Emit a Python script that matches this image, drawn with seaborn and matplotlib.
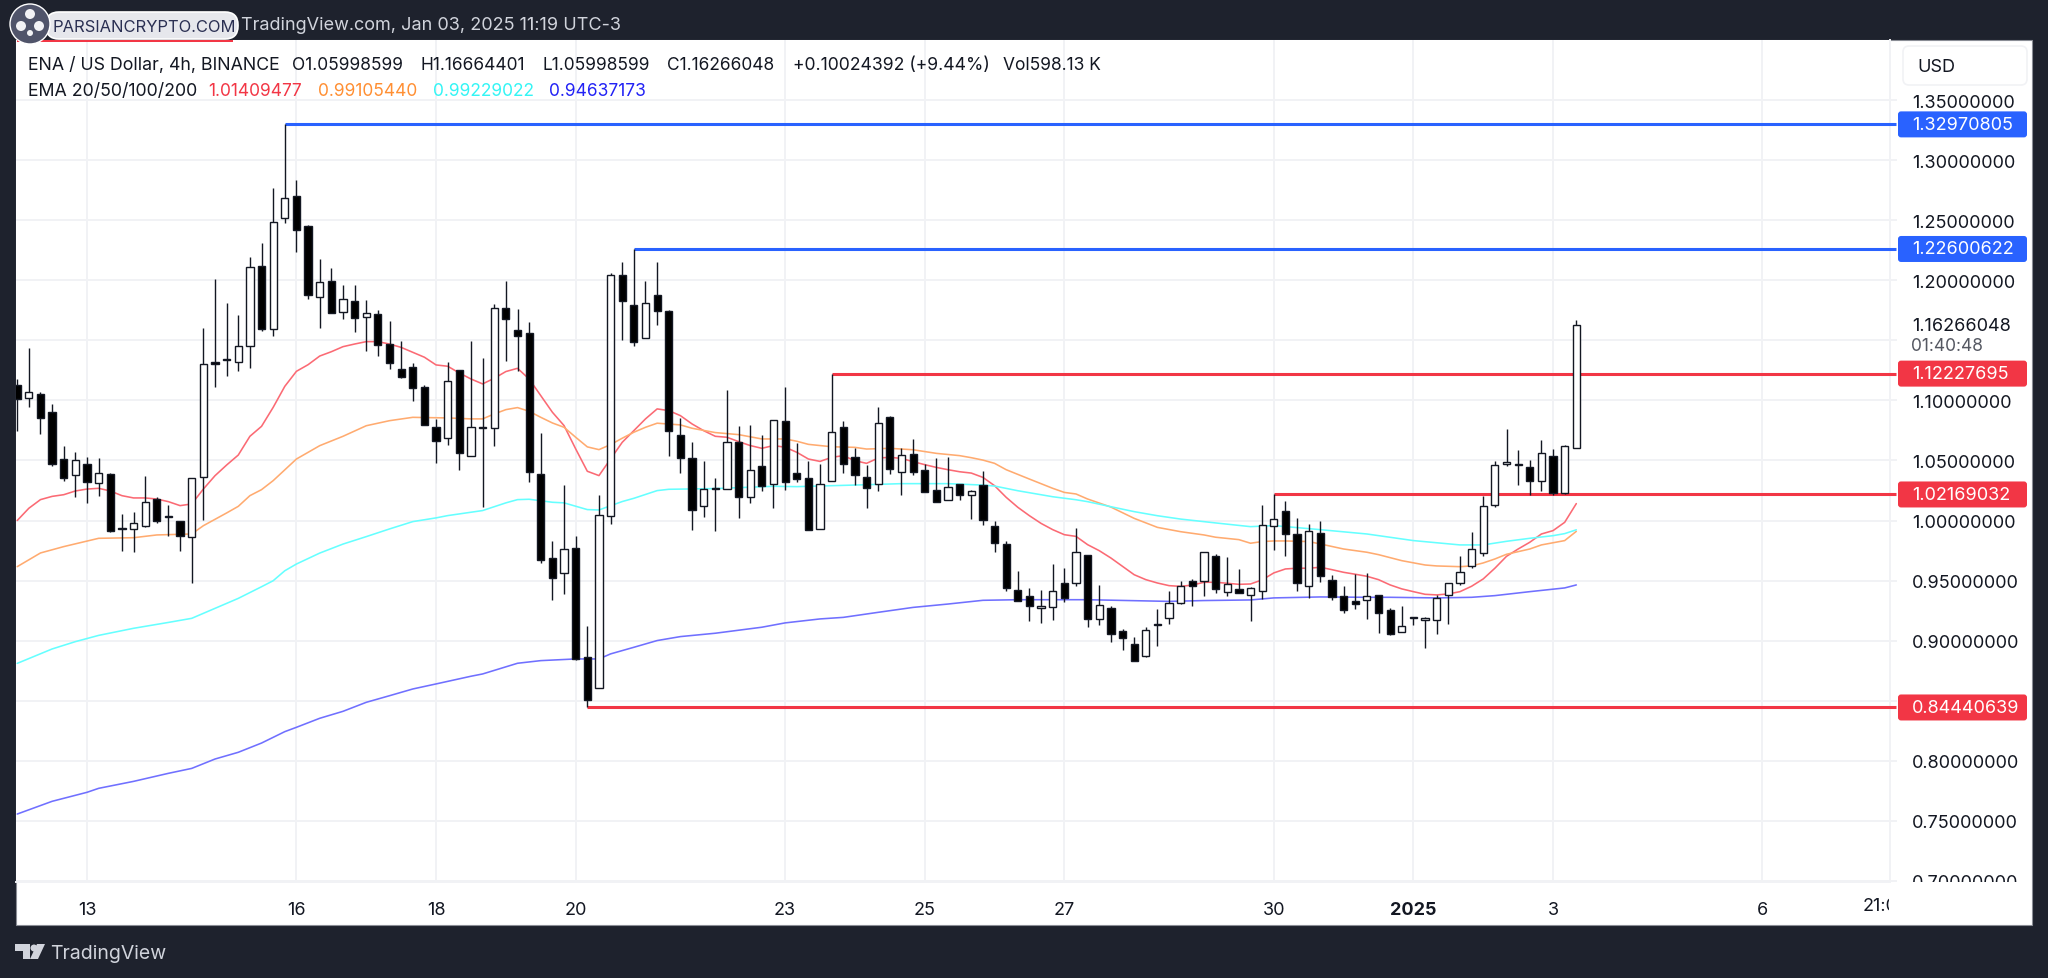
import pandas as pd
import seaborn as sns
import matplotlib.pyplot as plt
from matplotlib.patches import Rectangle, FancyBboxPatch, Circle, Polygon
from matplotlib.transforms import Bbox, IdentityTransform, blended_transform_factory

# candles, 4h bars, bar 0 is the first one on the left
opens = [1.1131, 1.1022, 1.1056, 1.0900, 1.0509, 1.0382, 1.0470, 1.0312, 1.0390, 0.9930,
         0.9927, 0.9957, 1.0176, 1.0027, 0.9993, 0.9866, 1.0360, 1.1319, 1.1339, 1.1317,
         1.1455, 1.2118, 1.1594, 1.2518, 1.2698, 1.2454, 1.1857, 1.1993, 1.1738, 1.1824,
         1.1694, 1.1716, 1.1472, 1.1264, 1.1278, 1.1115, 1.0779, 1.0688, 1.1251, 1.0538,
         1.0771, 1.0771, 1.1767, 1.1586, 1.1561, 1.0391, 0.9686, 0.9561, 0.9775, 0.8862,
         0.8604, 1.0036, 1.2044, 1.1792, 1.1520, 1.1880, 1.1747, 1.0712, 1.0524, 1.0119,
         1.0266, 1.0260, 1.0654, 1.0199, 1.0457, 1.0302, 1.0826, 1.0396, 1.0352, 0.9932,
         1.0329, 1.0778, 1.0528, 1.0365, 1.0304, 1.0861, 1.0401, 1.0551, 1.0420, 1.0251,
         1.0171, 1.0301, 1.0215, 1.0295, 0.9957, 0.9807, 0.9419, 0.9372, 0.9275, 0.9277,
         0.9477, 0.9483, 0.9710, 0.9178, 0.9272, 0.9083, 0.8969, 0.8875, 0.9128, 0.9186,
         0.9311, 0.9499, 0.9494, 0.9705, 0.9403, 0.9428, 0.9381, 0.9411, 0.9952, 1.0077,
         0.9888, 0.9456, 0.9899, 0.9503, 0.9372, 0.9328, 0.9336, 0.9381, 0.9259, 0.9073,
         0.9192, 0.9173, 0.9175, 0.9381, 0.9481, 0.9625, 0.9730, 1.0132, 1.0474, 1.0465,
         1.0446, 1.0329, 1.0540, 1.0227, 1.0600]
highs = [1.1178, 1.1433, 1.1067, 1.0970, 1.0617, 1.0573, 1.0529, 1.0523, 1.0396, 1.0052,
         1.0068, 1.0368, 1.0193, 1.0129, 0.9993, 1.0351, 1.1605, 1.2007, 1.1813, 1.1713,
         1.2190, 1.2307, 1.2767, 1.3297, 1.2831, 1.2462, 1.2176, 1.2102, 1.1963, 1.1963,
         1.1833, 1.1749, 1.1661, 1.1491, 1.1308, 1.1129, 1.0846, 1.1323, 1.1253, 1.1492,
         1.1350, 1.1800, 1.1991, 1.1764, 1.1656, 1.0726, 0.9828, 1.0299, 0.9869, 0.9123,
         1.0216, 1.2058, 1.2149, 1.2260, 1.1994, 1.2149, 1.1750, 1.0851, 1.0657, 1.0493,
         1.0355, 1.1090, 1.0785, 1.0796, 1.0712, 1.0840, 1.1115, 1.0646, 1.0499, 1.0470,
         1.1223, 1.0825, 1.0601, 1.0462, 1.0942, 1.0872, 1.0601, 1.0675, 1.0473, 1.0517,
         1.0531, 1.0304, 1.0251, 1.0409, 0.9993, 0.9827, 0.9580, 0.9435, 0.9424, 0.9635,
         0.9605, 0.9938, 0.9713, 0.9466, 0.9286, 0.9094, 0.9028, 0.9114, 0.9263, 0.9416,
         0.9499, 0.9513, 0.9741, 0.9724, 0.9700, 0.9594, 0.9450, 1.0130, 1.0217, 1.0160,
         1.0021, 0.9972, 0.9994, 0.9547, 0.9453, 0.9553, 0.9561, 0.9383, 0.9270, 0.9292,
         0.9200, 0.9195, 0.9381, 0.9481, 0.9702, 0.9908, 1.0207, 1.0499, 1.0762, 1.0587,
         1.0504, 1.0671, 1.0593, 1.0629, 1.1666]
lows = [1.0748, 1.0942, 1.0720, 1.0457, 1.0332, 1.0193, 1.0143, 1.0207, 0.9907, 0.9746,
        0.9735, 0.9943, 0.9979, 0.9874, 0.9749, 0.9477, 1.0004, 1.1111, 1.1206, 1.1247,
        1.1269, 1.1575, 1.1538, 1.2476, 1.2232, 1.1841, 1.1605, 1.1724, 1.1677, 1.1572,
        1.1408, 1.1369, 1.1261, 1.1183, 1.0998, 1.0793, 1.0477, 1.0632, 1.0424, 1.0538,
        1.0110, 1.0624, 1.1331, 1.1242, 1.0324, 0.9647, 0.9339, 0.9389, 0.8840, 0.8444,
        0.8604, 0.9969, 1.1506, 1.1456, 1.1520, 1.1628, 1.0540, 1.0396, 0.9925, 1.0033,
        0.9911, 1.0260, 1.0024, 1.0149, 1.0244, 1.0108, 1.0252, 1.0319, 0.9922, 0.9932,
        1.0329, 1.0393, 1.0295, 1.0104, 1.0243, 1.0387, 1.0215, 1.0379, 1.0237, 1.0151,
        1.0171, 1.0171, 1.0010, 0.9963, 0.9735, 0.9416, 0.9327, 0.9166, 0.9150, 0.9175,
        0.9319, 0.9452, 0.9111, 0.9133, 0.8986, 0.8922, 0.8831, 0.8861, 0.8953, 0.9136,
        0.9305, 0.9291, 0.9369, 0.9394, 0.9375, 0.9397, 0.9162, 0.9347, 0.9758, 0.9708,
        0.9417, 0.9358, 0.9486, 0.9339, 0.9228, 0.9264, 0.9181, 0.9062, 0.9051, 0.9073,
        0.9134, 0.8942, 0.9056, 0.9139, 0.9464, 0.9603, 0.9702, 1.0116, 1.0457, 1.0299,
        1.0213, 1.0246, 1.0216, 1.0218, 1.0600]
closes = [1.1011, 1.1067, 1.0851, 1.0468, 1.0351, 1.0506, 1.0321, 1.0396, 0.9916, 0.9941,
          0.9979, 1.0157, 0.9999, 1.0035, 0.9874, 1.0351, 1.1305, 1.1303, 1.1347, 1.1450,
          1.2110, 1.1594, 1.2482, 1.2681, 1.2421, 1.1880, 1.1982, 1.1724, 1.1846, 1.1685,
          1.1727, 1.1458, 1.1314, 1.1197, 1.1106, 1.0793, 1.0660, 1.1162, 1.0565, 1.0779,
          1.0782, 1.1772, 1.1678, 1.1539, 1.0402, 0.9672, 0.9522, 0.9761, 0.8851, 0.8510,
          1.0049, 1.2047, 1.1830, 1.1484, 1.1814, 1.1742, 1.0743, 1.0518, 1.0088, 1.0263,
          1.0274, 1.0654, 1.0197, 1.0421, 1.0288, 1.0835, 1.0321, 1.0346, 0.9922, 1.0307,
          1.0739, 1.0470, 1.0379, 1.0270, 1.0809, 1.0426, 1.0542, 1.0401, 1.0237, 1.0151,
          1.0282, 1.0209, 1.0248, 1.0004, 0.9810, 0.9438, 0.9327, 0.9288, 0.9286, 0.9413,
          0.9358, 0.9741, 0.9183, 0.9294, 0.9055, 0.9025, 0.8831, 0.9086, 0.9139, 0.9316,
          0.9455, 0.9458, 0.9741, 0.9433, 0.9469, 0.9397, 0.9442, 0.9966, 1.0016, 0.9888,
          0.9478, 0.9911, 0.9536, 0.9367, 0.9253, 0.9309, 0.9375, 0.9228, 0.9056, 0.9120,
          0.9200, 0.9189, 0.9358, 0.9481, 0.9575, 0.9763, 1.0124, 1.0463, 1.0485, 1.0474,
          1.0327, 1.0565, 1.0230, 1.0621, 1.1627]

# EMA 20, one value per bar
ema20 = [1.0000, 1.0102, 1.0174, 1.0201, 1.0215, 1.0246, 1.0262, 1.0268, 1.0246, 1.0207,
         1.0188, 1.0188, 1.0179, 1.0157, 1.0124, 1.0138, 1.0262, 1.0373, 1.0462, 1.0545,
         1.0701, 1.0784, 1.0942, 1.1117, 1.1242, 1.1297, 1.1369, 1.1405, 1.1447, 1.1469,
         1.1489, 1.1489, 1.1469, 1.1441, 1.1400, 1.1359, 1.1295, 1.1284, 1.1228, 1.1178,
         1.1137, 1.1184, 1.1240, 1.1267, 1.1178, 1.1040, 1.0901, 1.0790, 1.0596, 1.0410,
         1.0374, 1.0513, 1.0651, 1.0748, 1.0846, 1.0929, 1.0915, 1.0873, 1.0804, 1.0748,
         1.0701, 1.0693, 1.0657, 1.0624, 1.0601, 1.0624, 1.0610, 1.0568, 1.0512, 1.0492,
         1.0526, 1.0540, 1.0498, 1.0476, 1.0520, 1.0526, 1.0517, 1.0490, 1.0465, 1.0442,
         1.0423, 1.0406, 1.0395, 1.0359, 1.0290, 1.0193, 1.0110, 1.0040, 0.9976, 0.9924,
         0.9882, 0.9868, 0.9799, 0.9749, 0.9688, 0.9619, 0.9549, 0.9508, 0.9480, 0.9458,
         0.9452, 0.9463, 0.9486, 0.9486, 0.9478, 0.9469, 0.9472, 0.9506, 0.9564, 0.9597,
         0.9603, 0.9603, 0.9611, 0.9591, 0.9569, 0.9553, 0.9536, 0.9508, 0.9464, 0.9431,
         0.9408, 0.9386, 0.9381, 0.9389, 0.9408, 0.9453, 0.9514, 0.9603, 0.9702, 0.9763,
         0.9819, 0.9888, 0.9916, 0.9985, 1.0141]

# the slower EMAs were read at fewer bars
ema50_bars = [0, 2, 4, 7, 10, 12, 15, 16, 18, 19, 20, 21, 22, 24, 26, 28, 30, 32, 34, 35, 37, 39, 40,
              41, 42, 43, 44, 45, 46, 47, 48, 49, 50, 51, 52, 53, 54, 55, 57, 58, 60, 62, 64, 66, 67,
              68, 70, 72, 73, 75, 77, 79, 81, 82, 83, 84, 85, 87, 89, 90, 91, 92, 94, 96, 98, 100,
              102, 103, 105, 106, 107, 108, 109, 111, 112, 114, 116, 117, 119, 121, 122, 124, 125,
              126, 127, 128, 130, 131, 133, 134]
ema50 = [0.9616, 0.9730, 0.9783, 0.9852, 0.9857, 0.9880, 0.9888, 0.9957, 1.0063, 1.0118, 1.0207, 1.0257,
         1.0332, 1.0512, 1.0623, 1.0701, 1.0789, 1.0831, 1.0859, 1.0857, 1.0854, 1.0846, 1.0846,
         1.0887, 1.0923, 1.0940, 1.0909, 1.0859, 1.0812, 1.0776, 1.0693, 1.0613, 1.0590, 1.0632,
         1.0685, 1.0735, 1.0776, 1.0810, 1.0796, 1.0768, 1.0732, 1.0715, 1.0679, 1.0679, 1.0660,
         1.0634, 1.0614, 1.0609, 1.0595, 1.0601, 1.0589, 1.0559, 1.0540, 1.0523, 1.0503, 1.0476,
         1.0423, 1.0345, 1.0268, 1.0234, 1.0221, 1.0179, 1.0112, 1.0018, 0.9943, 0.9907, 0.9880,
         0.9861, 0.9841, 0.9811, 0.9825, 0.9830, 0.9830, 0.9825, 0.9805, 0.9763, 0.9736, 0.9716,
         0.9666, 0.9630, 0.9622, 0.9616, 0.9622, 0.9647, 0.9680, 0.9719, 0.9763, 0.9797, 0.9833,
         0.9910]
ema100_bars = [0, 3, 5, 7, 10, 13, 15, 17, 19, 21, 22, 23, 24, 26, 28, 30, 32, 34, 36, 37, 39, 40, 42,
               43, 44, 46, 47, 48, 49, 50, 52, 53, 55, 56, 60, 65, 67, 70, 73, 76, 80, 83, 84, 86,
               89, 91, 92, 94, 96, 98, 100, 103, 106, 108, 112, 116, 120, 124, 126, 128, 130, 132,
               133, 134]
ema100 = [0.8811, 0.8931, 0.8992, 0.9044, 0.9103, 0.9152, 0.9186, 0.9269, 0.9352, 0.9449, 0.9499, 0.9582,
          0.9638, 0.9729, 0.9804, 0.9866, 0.9930, 0.9991, 1.0022, 1.0041, 1.0069, 1.0083, 1.0147,
          1.0174, 1.0177, 1.0152, 1.0147, 1.0119, 1.0091, 1.0088, 1.0158, 1.0185, 1.0249, 1.0260,
          1.0266, 1.0285, 1.0282, 1.0290, 1.0298, 1.0307, 1.0307, 1.0295, 1.0287, 1.0248, 1.0198,
          1.0173, 1.0157, 1.0115, 1.0074, 1.0040, 1.0012, 0.9980, 0.9949, 0.9958, 0.9924, 0.9888,
          0.9833, 0.9797, 0.9797, 0.9827, 0.9852, 0.9874, 0.9891, 0.9923]
ema200_bars = [0, 3, 6, 7, 10, 13, 15, 17, 19, 21, 23, 24, 26, 28, 30, 32, 34, 36, 39, 40, 43, 45, 48,
               50, 51, 53, 55, 57, 60, 64, 66, 69, 71, 74, 77, 80, 83, 86, 92, 96, 99, 102, 106, 108,
               112, 116, 118, 122, 125, 127, 130, 133, 134]
ema200 = [0.7557, 0.7663, 0.7738, 0.7771, 0.7829, 0.7896, 0.7937, 0.8015, 0.8071, 0.8148, 0.8243, 0.8279,
          0.8354, 0.8412, 0.8487, 0.8542, 0.8598, 0.8640, 0.8704, 0.8723, 0.8812, 0.8834, 0.8848,
          0.8848, 0.8890, 0.8945, 0.9001, 0.9034, 0.9062, 0.9112, 0.9148, 0.9181, 0.9194, 0.9236,
          0.9277, 0.9305, 0.9336, 0.9341, 0.9341, 0.9333, 0.9327, 0.9334, 0.9339, 0.9356, 0.9364,
          0.9361, 0.9361, 0.9356, 0.9361, 0.9375, 0.9408, 0.9439, 0.9464]

# drawn levels: price, bar where it starts, colour
level_prices = [1.32970805, 1.22600622, 1.12227695, 1.02169032, 0.84440639]
level_starts = [23, 53, 70, 108, 49]
level_colors = ['#2962FF', '#2962FF', '#F23645', '#F23645', '#F23645']

price_ticks = [0.70, 0.75, 0.80, 0.85, 0.90, 0.95, 1.00, 1.05, 1.10, 1.15, 1.20, 1.25, 1.30, 1.35]
hidden_ticks = [0.85, 1.15]
date_ticks = [6, 24, 36, 48, 66, 78, 90, 108, 120, 132, 150]
date_labels = ['13', '16', '18', '20', '23', '25', '27', '30', '2025', '3', '6']

W, H = 2048, 979
DARK = '#1E222D'
GRID = '#F1F2F5'
INK = '#131722'
FONT = 'Inter'
bars = list(range(len(opens)))

sns.set_theme(style='white')
plt.rcParams['font.family'] = [FONT, 'DejaVu Sans']

fig = plt.figure(figsize=(W / 100, H / 100), dpi=100, facecolor=DARK)


def ftext(x, y, s, **kw):
    kw.setdefault('va', 'center')
    kw.setdefault('fontsize', 13)
    kw.setdefault('color', INK)
    return fig.text(x / W, 1 - y / H, s, **kw)


# white panel behind the chart and price scale
fig.add_artist(Rectangle((16 / W, 1 - 926 / H), 2016 / W, 885 / H, transform=fig.transFigure,
                         facecolor='white', edgecolor='#8A8D95', linewidth=0.8, zorder=0))

ax = fig.add_axes([16 / W, 1 - 883 / H, 1874 / W, 842 / H], facecolor='white', zorder=1)

# EMAs go under the candles
ema_lines = [(bars, ema20, '#FB6A74'), (ema50_bars, ema50, '#FFAB70'),
             (ema100_bars, ema100, '#66FFFF'), (ema200_bars, ema200, '#7070FF')]
for xs, ys, col in ema_lines:
    df = pd.DataFrame({'bar': xs, 'price': ys})
    sns.lineplot(data=df, x='bar', y='price', ax=ax, color=col, linewidth=1.15, zorder=2,
                 estimator=None, legend=False)

for price, start, col in zip(level_prices, level_starts, level_colors):
    ax.hlines(price, start, 161.5, color=col, linewidth=2.2, zorder=3, clip_on=False)

ax.vlines(bars, lows, highs, color=INK, linewidth=1.0, zorder=4)
candles = pd.DataFrame({'bar': bars, 'open': opens, 'close': closes})
candles['low_side'] = candles[['open', 'close']].min(axis=1)
candles['size'] = (candles['close'] - candles['open']).abs()
candles['fill'] = ['white' if c >= o else 'black' for o, c in zip(opens, closes)]
ax.bar(candles['bar'], candles['size'], bottom=candles['low_side'], width=0.62,
       color=candles['fill'], edgecolor=INK, linewidth=1.0, zorder=5)

ax.set_xlim(-0.103, 160.96)
ax.set_ylim(0.69915, 1.39994)
ax.set_xlabel('')
ax.set_ylabel('')
ax.set_xticks(date_ticks)
ax.set_xticklabels(date_labels, fontsize=13, color=INK)
ax.set_yticks(price_ticks)
ax.set_yticklabels(['' if t in hidden_ticks else f'{t:.8f}' for t in price_ticks], fontsize=13, color=INK)
ax.yaxis.tick_right()
ax.tick_params(axis='y', length=5, width=1.4, color=GRID, pad=11, right=True)
ax.tick_params(axis='x', length=0, pad=14)
ax.grid(True, color=GRID, linewidth=1.4, zorder=0)
ax.set_axisbelow(True)
for name in ['left', 'top']:
    ax.spines[name].set_visible(False)
for name in ['right', 'bottom']:
    ax.spines[name].set_color(GRID)
    ax.spines[name].set_linewidth(1.4)
for lab in ax.get_xticklabels():
    if lab.get_text() == '2025':
        lab.set_fontweight('bold')
# the 0.70 label is cut off where the price scale ends
scale_box = Bbox([[1891, H - 883], [2032, H - 41]])
for lab in ax.get_yticklabels():
    lab.set_clip_on(True)
    lab.set_clip_box(scale_box)

# 21:00 is only half visible at the end of the time axis
cut = ax.text(160.6, -24 / 842, '21:00', transform=blended_transform_factory(ax.transData, ax.transAxes),
              fontsize=13, color=INK, ha='center', va='center')
cut.set_clip_on(True)
cut.set_clip_box(Bbox([[1700, 0], [1889, H]]))

# price tags on the scale
for price, col in zip(level_prices, level_colors):
    y = ax.transData.transform((0, price))[1]
    fig.add_artist(FancyBboxPatch((1898, y - 13), 129, 26, boxstyle='round,pad=0,rounding_size=3',
                                  transform=IdentityTransform(), facecolor=col, edgecolor='none', zorder=6))
    fig.text(1912 / W, y / H, f'{price:.8f}', color='white', fontsize=13, va='center', zorder=7)

# last price and bar countdown
last_y = ax.transData.transform((0, 1.16266048))[1]
fig.text(1912 / W, last_y / H, '1.16266048', color=INK, fontsize=13, va='center', zorder=7)
ftext(1911, 347, '01:40:48', color='#555862', fontsize=12.5, zorder=7)

# currency button
fig.add_artist(FancyBboxPatch((1903, H - 86), 124, 39, boxstyle='round,pad=0,rounding_size=6',
                              transform=IdentityTransform(), facecolor='white', edgecolor=GRID,
                              linewidth=1.2, zorder=6))
ftext(1917, 67, 'USD', fontsize=13, zorder=7)

# header and legend rows
ftext(241, 25, 'TradingView.com, Jan 03, 2025 11:19 UTC-3', color='#D1D4DC', fontsize=13)
row1 = [(27.5, 'ENA / US Dollar, 4h, BINANCE', 12.8), (292, 'O1.05998599', 12.5), (420, 'H1.16664401', 12.5),
        (543, 'L1.05998599', 12.5), (667, 'C1.16266048', 12.5), (793, '+0.10024392 (+9.44%)', 12.7),
        (1003, 'Vol598.13 K', 12.5)]
for x, s, size in row1:
    ftext(x, 66, s, fontsize=size, zorder=7)
ftext(27.5, 91, 'EMA 20/50/100/200', fontsize=12.8, zorder=7)
row2 = [(208, '1.01409477', '#F23645'), (318, '0.99105440', '#FF8F33'),
        (433, '0.99229022', '#33F5F5'), (549, '0.94637173', '#2222F5')]
for x, s, col in row2:
    ftext(x, 91, s, color=col, fontsize=12.5, zorder=7)

# watermark in the top left corner
fig.add_artist(FancyBboxPatch((46, H - 40), 192, 27, boxstyle='round,pad=0,rounding_size=13',
                              transform=IdentityTransform(), facecolor='#E6E7EC', edgecolor='white',
                              linewidth=1.2, zorder=8))
ftext(52, 27, 'PARSIANCRYPTO.COM', color='#2A2F52', fontsize=11.9, zorder=9)
fig.add_artist(Rectangle((17, H - 43), 216, 2.5, transform=IdentityTransform(), facecolor='#F23645',
                         edgecolor='none', zorder=9))
fig.add_artist(Circle((30, H - 25), 20, transform=IdentityTransform(), facecolor='#50546A',
                      edgecolor='white', linewidth=1, zorder=9))
for cx, cy, r in [(30, 15, 5), (21, 27, 5), (39, 27, 5), (30, 34, 3)]:
    fig.add_artist(Circle((cx, H - cy), r, transform=IdentityTransform(), facecolor='#F2F2F5',
                          edgecolor='none', zorder=10))

# TradingView footer logo
for pts in [[(15, 945), (30, 945), (30, 960), (23, 960), (23, 952), (15, 952)],
            [(37, 945), (45, 945), (38, 960), (30, 960)]]:
    fig.add_artist(Polygon([(x, H - y) for x, y in pts], transform=IdentityTransform(),
                           facecolor='#D1D4DC', edgecolor='none'))
fig.add_artist(Circle((34, H - 949), 3.5, transform=IdentityTransform(), facecolor='#D1D4DC', edgecolor='none'))
ftext(50, 954, 'TradingView', color='#D1D4DC', fontsize=14)

fig.savefig('out.png', dpi=100, facecolor=DARK)
